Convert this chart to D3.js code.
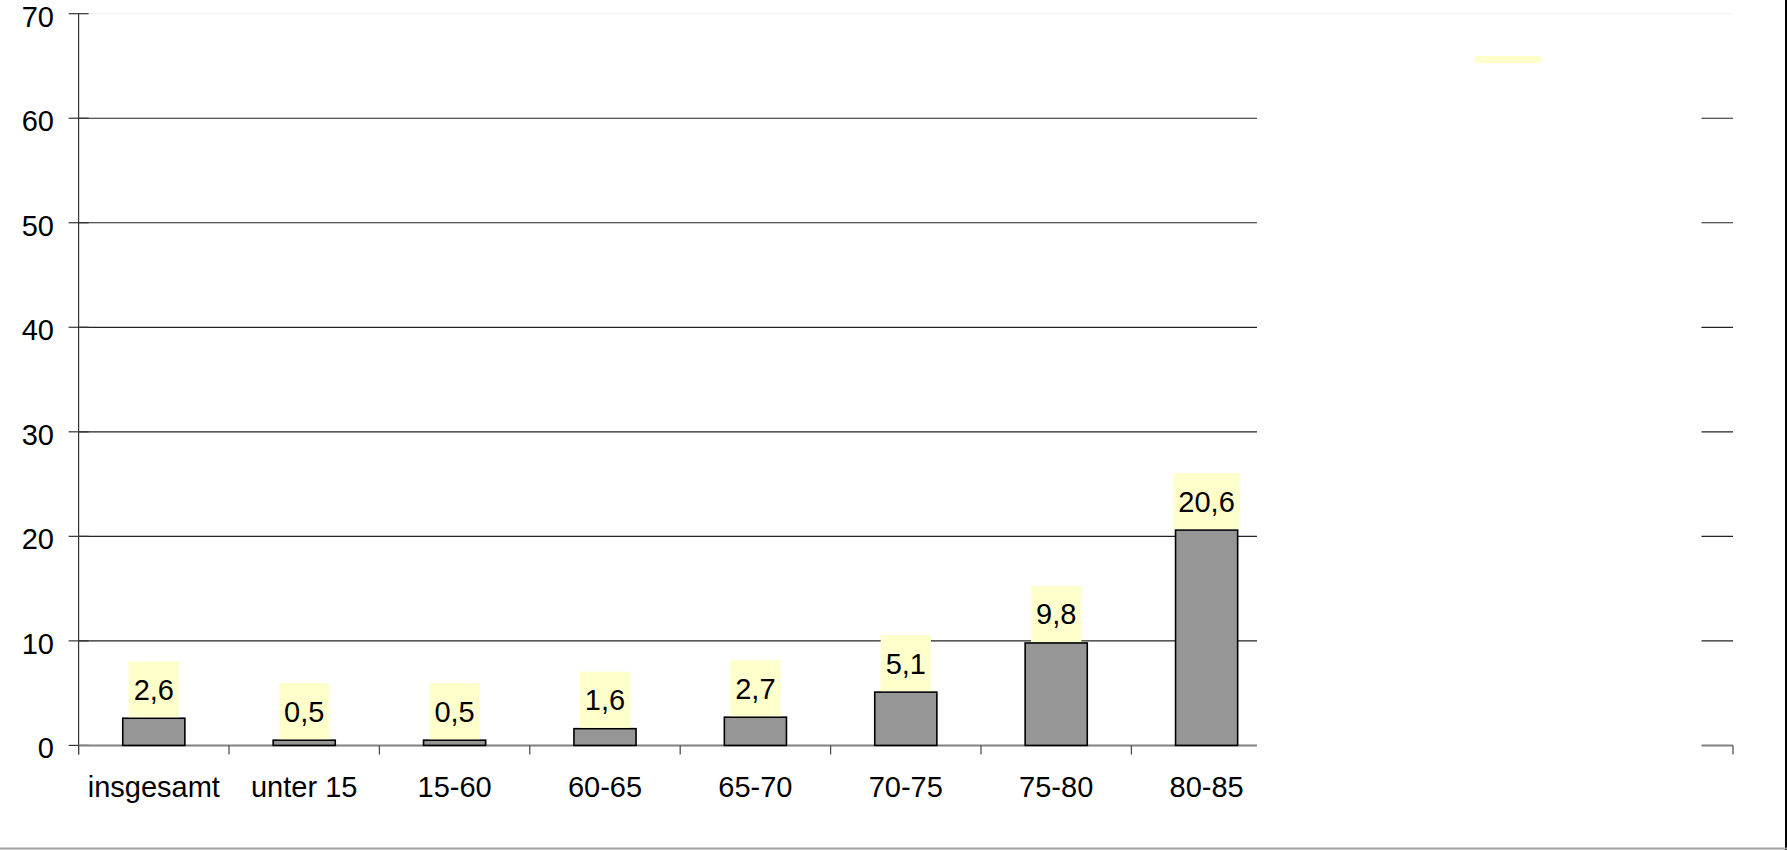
<!DOCTYPE html>
<html>
<head>
<meta charset="utf-8">
<script src="https://cdn.jsdelivr.net/npm/d3@7"></script>
<style>
  html, body { margin: 0; padding: 0; background: #fff; }
  svg { display: block; }
  text { font-family: "Liberation Sans", Arial, sans-serif; fill: #000; }
</style>
</head>
<body>
<svg id="chart" width="1787" height="850"></svg>
<script>
// ---- data ----
const categories = ["insgesamt", "unter 15", "15-60", "60-65", "65-70", "70-75", "75-80", "80-85"];
const values = [2.6, 0.5, 0.5, 1.6, 2.7, 5.1, 9.8, 20.6];
const labels = ["2,6", "0,5", "0,5", "1,6", "2,7", "5,1", "9,8", "20,6"];
const yTicks = [0, 10, 20, 30, 40, 50, 60, 70];

// ---- layout ----
const W = 1787, H = 850;
const FS = "29px";
const slotCount = 11; // axis has 11 category slots; the last 3 are empty
const plot = { left: 78.6, right: 1733, top: 13.7, bottom: 745.4 };
const svg = d3.select("#chart");

const y = d3.scaleLinear().domain([0, 70]).range([plot.bottom, plot.top]);
const x = d3.scaleBand().domain(d3.range(slotCount)).range([plot.left, plot.right]).padding(0);
const bw = x.bandwidth();
const barW = bw * 0.413;

// faint top border line (70)
svg.append("line")
  .attr("x1", plot.left + 10).attr("x2", plot.right)
  .attr("y1", y(70)).attr("y2", y(70))
  .attr("stroke", "#eeeeee").attr("stroke-width", 1);

// gridlines
svg.append("g").selectAll("line")
  .data(yTicks.filter(d => d > 0 && d < 70))
  .join("line")
  .attr("x1", plot.left).attr("x2", plot.right)
  .attr("y1", d => y(d)).attr("y2", d => y(d))
  .attr("stroke", "#222").attr("stroke-width", 1.2);

// y axis line
svg.append("line")
  .attr("x1", plot.left).attr("x2", plot.left)
  .attr("y1", y(70)).attr("y2", plot.bottom + 9)
  .attr("stroke", "#333").attr("stroke-width", 1.2);

// y ticks (crossing)
svg.append("g").selectAll("line")
  .data(yTicks)
  .join("line")
  .attr("x1", plot.left - 10).attr("x2", plot.left + 10)
  .attr("y1", d => y(d)).attr("y2", d => y(d))
  .attr("stroke", "#333").attr("stroke-width", 1.2);

// y tick labels
svg.append("g").selectAll("text")
  .data(yTicks)
  .join("text")
  .attr("x", 54).attr("y", d => y(d))
  .attr("dy", "0.45em")
  .attr("text-anchor", "end")
  .style("font-size", FS)
  .text(d => d);

// x axis baseline
svg.append("line")
  .attr("x1", plot.left).attr("x2", plot.right)
  .attr("y1", plot.bottom).attr("y2", plot.bottom)
  .attr("stroke", "#808080").attr("stroke-width", 2);

// x ticks at band boundaries
const bounds = d3.range(slotCount + 1).map(i => plot.left + i * bw);
svg.append("g").selectAll("line")
  .data(bounds)
  .join("line")
  .attr("x1", d => d).attr("x2", d => d)
  .attr("y1", plot.bottom).attr("y2", plot.bottom + 9)
  .attr("stroke", "#444").attr("stroke-width", 1.2);

// bars
svg.append("g").selectAll("rect")
  .data(values)
  .join("rect")
  .attr("x", (d, i) => x(i) + bw / 2 - barW / 2)
  .attr("y", d => y(d))
  .attr("width", barW)
  .attr("height", d => y(0) - y(d))
  .attr("fill", "#969696")
  .attr("stroke", "#000")
  .attr("stroke-width", 1.6);

// x labels
svg.append("g").selectAll("text")
  .data(categories)
  .join("text")
  .attr("x", (d, i) => x(i) + bw / 2)
  .attr("y", 797)
  .attr("text-anchor", "middle")
  .style("font-size", FS)
  .text(d => d);

// value labels with yellow boxes
const lg = svg.append("g").selectAll("g")
  .data(values)
  .join("g");
lg.each(function(d, i) {
  const g = d3.select(this);
  const cx = x(i) + bw / 2;
  const top = y(d) - 1;
  const boxH = 56;
  const rect = g.append("rect").attr("fill", "#ffffcc");
  const t = g.append("text")
    .attr("x", cx)
    .attr("y", top - boxH / 2)
    .attr("dy", "0.36em")
    .attr("text-anchor", "middle")
    .style("font-size", FS)
    .text(labels[i]);
  const tw = t.node().getComputedTextLength();
  rect.attr("x", cx - tw / 2 - 5).attr("y", top - boxH)
    .attr("width", tw + 10).attr("height", boxH);
});

// blank legend area covering the empty slots
svg.append("rect")
  .attr("x", 1257).attr("y", 20)
  .attr("width", 1701.5 - 1257).attr("height", 745)
  .attr("fill", "#fff");
svg.append("rect")
  .attr("x", 1475).attr("y", 56)
  .attr("width", 66).attr("height", 7)
  .attr("fill", "#ffffcc");

// chart frame: right border and bottom line
svg.append("line")
  .attr("x1", 1786).attr("x2", 1786).attr("y1", 0).attr("y2", H)
  .attr("stroke", "#000").attr("stroke-width", 2);
svg.append("line")
  .attr("x1", 0).attr("x2", W).attr("y1", 848.5).attr("y2", 848.5)
  .attr("stroke", "#a0a0a0").attr("stroke-width", 2);
</script>
</body>
</html>
